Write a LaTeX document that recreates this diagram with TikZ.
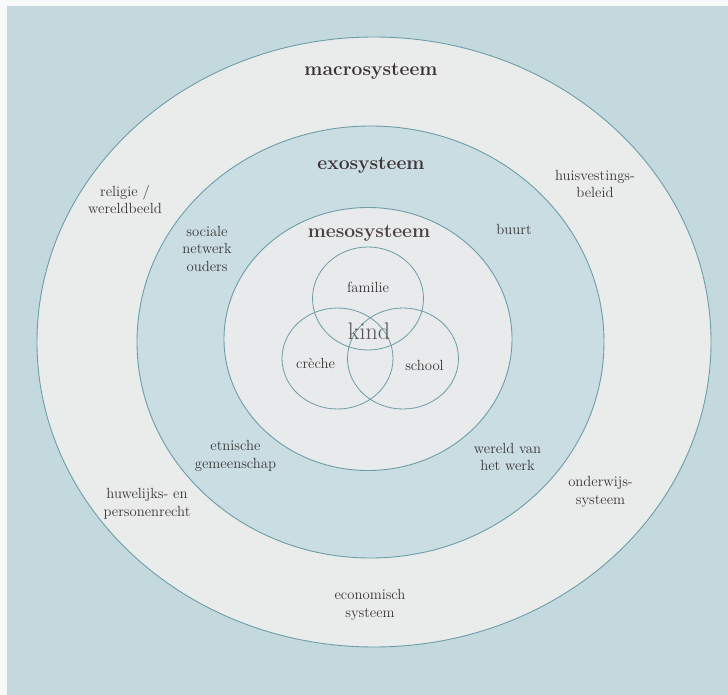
\documentclass[tikz,border=0pt]{standalone}
\usepackage{xcolor}
\definecolor{bgblue}{HTML}{C4D9DD}
\definecolor{ringwhite}{HTML}{EAEBEB}
\definecolor{exoblue}{HTML}{C9DDE3}
\definecolor{mesowhite}{HTML}{E8EAEB}
\definecolor{linecol}{HTML}{6B9EA7}
\definecolor{txt}{HTML}{3A3637}
\definecolor{head}{HTML}{3D3335}
\definecolor{mesohead}{HTML}{4D4043}
\begin{document}
\begin{tikzpicture}[x=1pt,y=-1pt,
  ring/.style={draw=linecol, line width=0.9pt},
  venn/.style={draw=linecol, line width=0.8pt},
  lbl/.style={text=txt, align=center, inner sep=0pt, font=\fontsize{14.7}{17.5}\selectfont},
  heading/.style={text=head, inner sep=0pt, anchor=base, font=\fontsize{19.3}{22}\selectfont\bfseries},
  kindlbl/.style={text=txt!85, inner sep=0pt, anchor=base, font=\fontsize{24}{28}\selectfont}]
\useasboundingbox (0,0) rectangle (728,695);
\fill[white!95!gray] (0,0) rectangle (728,695);
\fill[bgblue] (7,6) rectangle (728,695);
% rings
\filldraw[ring, fill=ringwhite] (374,342) ellipse [x radius=337pt, y radius=305pt];
\filldraw[ring, fill=exoblue] (370.5,342) ellipse [x radius=233.5pt, y radius=216pt];
\filldraw[ring, fill=mesowhite] (368,339) ellipse [x radius=144pt, y radius=131.5pt];
% venn circles
\draw[venn] (368,298.5) ellipse [x radius=55.5pt, y radius=51.5pt];
\draw[venn] (337.5,358.5) ellipse [x radius=55.5pt, y radius=50.5pt];
\draw[venn] (403,358.5) ellipse [x radius=55.5pt, y radius=50.5pt];
% headings
\node[heading] (macro) at (371,75.8) {macrosysteem};
\node[heading] (exo) at (371,169.9) {exosysteem};
\node[heading, text=mesohead] (meso) at (369,237.1) {mesosysteem};
% venn labels
\node[kindlbl] (kind) at (369,339.5) {kind};
\node[lbl, anchor=base] (familie) at (368,292.5) {familie};
\node[lbl, anchor=base] (creche) at (315.5,368.5) {crèche};
\node[lbl, anchor=base] (school) at (424.5,370) {school};
% exo labels
\node[lbl] (sociale) at (207,248.5) {sociale\\netwerk\\ouders};
\node[lbl, anchor=base] (buurt) at (514,234) {buurt};
\node[lbl] (etnisch) at (235.5,456) {etnische\\gemeenschap};
\node[lbl] (werk) at (507.5,457) {wereld van\\het werk};
% macro labels
\node[lbl] (religie) at (125,199.5) {religie /\\wereldbeeld};
\node[lbl] (huis) at (595,184) {huisvestings-\\beleid};
\node[lbl] (huwelijk) at (147,504) {huwelijks- en\\personenrecht};
\node[lbl] (onderwijs) at (600.5,492) {onderwijs-\\systeem};
\node[lbl] (econ) at (370,605) {economisch\\systeem};
\end{tikzpicture}
\end{document}
